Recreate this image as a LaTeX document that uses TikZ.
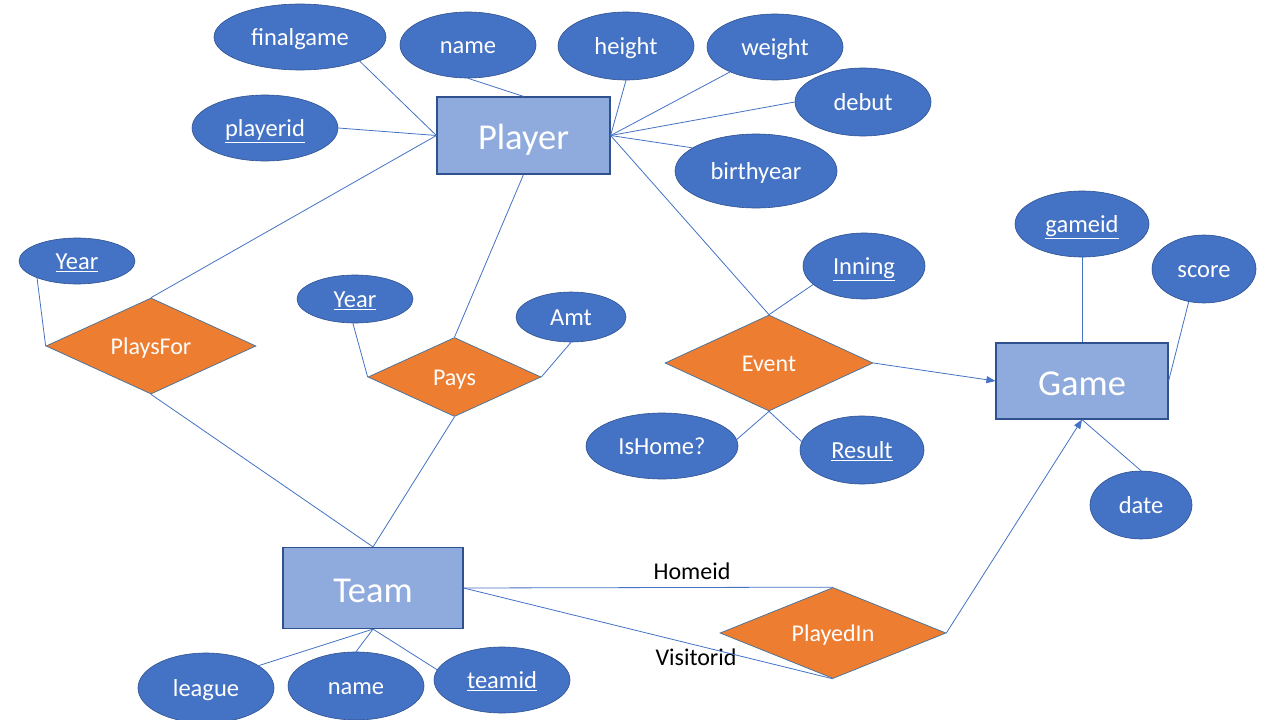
\documentclass[tikz,border=0pt]{standalone}
\usepackage{fontspec}
\setmainfont{Carlito}
\usetikzlibrary{shapes.geometric,arrows.meta}
\definecolor{attrblue}{HTML}{4472C4}
\definecolor{attredge}{HTML}{2F528F}
\definecolor{entfill}{HTML}{8FAADC}
\definecolor{relfill}{HTML}{ED7D31}
\definecolor{reledge}{HTML}{41719C}
\begin{document}
\begin{tikzpicture}[x=1pt,y=-1pt,
  attr/.style={ellipse, fill=attrblue, draw=attredge, line width=0.6pt, text=white,
    font=\fontsize{24.5}{28}\selectfont, inner sep=0pt, text height=17pt, text depth=0pt},
  ent/.style={rectangle, fill=entfill, draw=attredge, line width=1.2pt, text=white,
    font=\fontsize{36.5}{42}\selectfont, inner sep=0pt, text height=28pt, text depth=0pt},
  rel/.style={diamond, aspect=2, fill=relfill, draw=reledge, line width=0.7pt, text=white,
    font=\fontsize{24}{28}\selectfont, inner sep=0pt, text height=17pt, text depth=0pt},
  link/.style={draw=attrblue, line width=0.8pt},
  arrowlink/.style={link, -{Triangle[length=9pt,width=7pt]}},
  lbl/.style={text=black, font=\fontsize{24}{28}\selectfont, inner sep=0pt}]
\useasboundingbox (0,0) rectangle (1280,720);
\fill[white] (0,0) rectangle (1280,720);

% Entities
\node[ent, minimum width=173, minimum height=77] (player) at (523.5,135.5) {Player};
\node[ent, minimum width=172, minimum height=76] (game) at (1082,381) {Game};
\node[ent, minimum width=180, minimum height=81] (team) at (373,588) {Team};

% Relationships
\node[rel, minimum width=210, minimum height=96] (playsfor) at (151,346) {PlaysFor};
\node[rel, minimum width=173, minimum height=79] (pays) at (454.5,377) {Pays};
\node[rel, minimum width=208, minimum height=96] (event) at (769,363) {Event};
\node[rel, minimum width=226, minimum height=91] (playedin) at (833,633) {PlayedIn};

% Attributes
\node[attr, minimum width=172, minimum height=66] (finalgame) at (300,37) {finalgame};
\node[attr, minimum width=136, minimum height=66] (pname) at (468,45) {name};
\node[attr, minimum width=136, minimum height=68] (height) at (626,46) {height};
\node[attr, minimum width=136, minimum height=66] (weight) at (775,47) {weight};
\node[attr, minimum width=136, minimum height=68] (debut) at (863,102) {debut};
\node[attr, minimum width=146, minimum height=66] (playerid) at (265,128) {\underline{playerid}};
\node[attr, minimum width=162, minimum height=74] (birthyear) at (756,171) {birthyear};
\node[attr, minimum width=116, minimum height=46] (yearone) at (77,261) {\underline{Year}};
\node[attr, minimum width=116, minimum height=48] (yeartwo) at (355,299) {\underline{Year}};
\node[attr, minimum width=110, minimum height=50] (amt) at (571,317) {Amt};
\node[attr, minimum width=134, minimum height=66] (gameid) at (1082,224) {\underline{gameid}};
\node[attr, minimum width=104, minimum height=68] (score) at (1204,269) {score};
\node[attr, minimum width=122, minimum height=66] (inning) at (864,266) {\underline{Inning}};
\node[attr, minimum width=152, minimum height=66] (ishome) at (662,446) {IsHome?};
\node[attr, minimum width=124, minimum height=68] (result) at (862,450) {\underline{Result}};
\node[attr, minimum width=102, minimum height=68] (date) at (1141,505) {date};
\node[attr, minimum width=136, minimum height=70] (league) at (206,688) {league};
\node[attr, minimum width=136, minimum height=68] (tname) at (356,686) {name};
\node[attr, minimum width=136, minimum height=66] (teamid) at (502,680) {\underline{teamid}};

% Labels
\node[lbl] (homeid) at (692,571) {Homeid};
\node[lbl] (visitorid) at (696,657) {Visitorid};

% Links
\draw[link] (finalgame.-22) -- (player.west);
\draw[link] (playerid.east) -- (player.west);
\draw[link] (pname.south) -- (player.north);
\draw[link] (height.south) -- (player.east);
\draw[link] (weight.209) -- (player.east);
\draw[link] (debut.west) -- (player.east);
\draw[link] (birthyear.160) -- (player.east);
\draw[link] (player.east) -- (event.north);
\draw[link] (player.west) -- (playsfor.north);
\draw[link] (player.south) -- (pays.north);
\draw[link] (yearone.203) -- (playsfor.west);
\draw[link] (playsfor.south) -- (team.north);
\draw[link] (pays.south) -- (team.north);
\draw[link] (yeartwo.265) -- (pays.west);
\draw[link] (amt.south) -- (pays.east);
\draw[link] (inning.200) -- (event.north);
\draw[link] (event.south) -- (ishome.5);
\draw[link] (event.south) -- (result.172);
\draw[arrowlink] (event.east) -- (game.west);
\draw[link] (gameid.south) -- (game.north);
\draw[link] (score.245) -- (game.east);
\draw[link] (date.north) -- (game.south);
\draw[arrowlink] (playedin.east) -- (game.south);
\draw[link] (team.east) -- (playedin.north);
\draw[link] (team.east) -- (playedin.south);
\draw[link] (team.south) -- (league.23);
\draw[link] (team.south) -- (tname.north);
\draw[link] (team.south) -- (teamid.171);
\end{tikzpicture}
\end{document}
